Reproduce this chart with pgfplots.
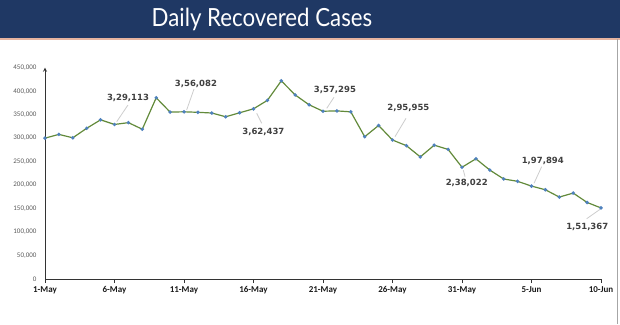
\documentclass[border=0pt]{standalone}
\usepackage{pgfplots}
\pgfplotsset{compat=1.18}
\usepackage{fontspec}
\setmainfont{Carlito}
\newfontfamily\titlefont{Lato}
\newfontfamily\carlito{Carlito}
\newfontfamily\dejavu{DejaVu Sans}
\definecolor{navy}{RGB}{31,56,100}
\definecolor{salmon}{RGB}{230,180,160}
\definecolor{linegreen}{RGB}{98,138,58}
\definecolor{markblue}{RGB}{79,129,189}
\definecolor{lbl}{RGB}{64,64,64}
\definecolor{leader}{RGB}{205,205,205}
\begin{document}
\begin{tikzpicture}[x=1pt,y=1pt]
\path[use as bounding box] (0,0) rectangle (620,324);
\fill[navy] (0,286) rectangle (620,324);
\draw[salmon,line width=1.5pt] (0,285.2) -- (620,285.2);
\draw[gray!70,line width=0.8pt] (617,0) -- (617,284.5);
\node[anchor=base,text=white,xscale=0.89,font=\titlefont\fontsize{25}{28}\selectfont] at (262,297) {Daily Recovered Cases};
\begin{axis}[
  at={(45pt,45pt)}, anchor=south west,
  scale only axis, width=556pt, height=211.3pt,
  xmin=0, xmax=40, ymin=0, ymax=450000,
  axis x line=bottom, axis y line=left,
  x axis line style={-, black!80, line width=0.8pt},
  y axis line style={-stealth, black!80, line width=0.8pt},
  xtick={0,5,...,40},
  xticklabels={1-May,6-May,11-May,16-May,21-May,26-May,31-May,5-Jun,10-Jun},
  ytick={0,50000,...,450000},
  scaled y ticks=false,
  /pgf/number format/.cd, fixed, 1000 sep={,}, assume math mode=true,
  /pgfplots/.cd,
  tick align=outside,
  major tick length=4pt,
  xtick style={black!80, line width=0.6pt},
  ytick style={draw=none},
  yticklabel style={font=\carlito\fontsize{7}{8}\selectfont, text=black!65, xshift=-1pt},
  xticklabel style={font=\carlito\bfseries\fontsize{9}{10}\selectfont, text=black!90},
  clip=false,
]
\addplot[color=linegreen, line width=1.2pt, mark=*, mark size=1.1pt,
  mark options={fill=markblue, draw=markblue}] coordinates {
(0,299988) (1,308000) (2,300700) (3,321000) (4,339000) (5,329113)
(6,333000) (7,319000) (8,386000) (9,355500) (10,356082) (11,355000)
(12,353500) (13,345500) (14,354000) (15,362437) (16,380500) (17,422000)
(18,392000) (19,371000) (20,357295) (21,358000) (22,356000) (23,303000)
(24,327000) (25,295955) (26,284000) (27,260000) (28,285000) (29,276000)
(30,238022) (31,256000) (32,232000) (33,213000) (34,208000) (35,197894)
(36,190000) (37,174500) (38,183000) (39,163000) (40,151367)
};
\begin{scope}[leader, line width=0.8pt]
\draw (axis cs:5.16,335000) -- (axis cs:5.97,370570);
\draw (axis cs:10.19,359900) -- (axis cs:10.72,404600);
\draw (axis cs:15.23,352900) -- (axis cs:15.59,331600);
\draw (axis cs:20.27,363500) -- (axis cs:20.79,387000);
\draw (axis cs:25.18,303100) -- (axis cs:25.97,342200);
\draw (axis cs:30.09,232100) -- (axis cs:30.22,217900);
\draw (axis cs:35.18,203800) -- (axis cs:35.73,239200);
\draw (axis cs:39.93,148400) -- (axis cs:38.97,128400);
\end{scope}
\begin{scope}[every node/.style={font=\dejavu\bfseries\fontsize{8.5}{10}\selectfont, text=lbl}]
\node at (axis cs:5.97,385470) {3,29,113};
\node at (axis cs:10.86,415300) {3,56,082};
\node at (axis cs:15.71,312400) {3,62,437};
\node at (axis cs:20.86,402500) {3,57,295};
\node at (axis cs:26.14,363500) {2,95,955};
\node at (axis cs:30.34,205100) {2,38,022};
\node at (axis cs:35.81,251900) {1,97,894};
\node at (axis cs:39.01,110100) {1,51,367};
\end{scope}
\end{axis}
\end{tikzpicture}
\end{document}
